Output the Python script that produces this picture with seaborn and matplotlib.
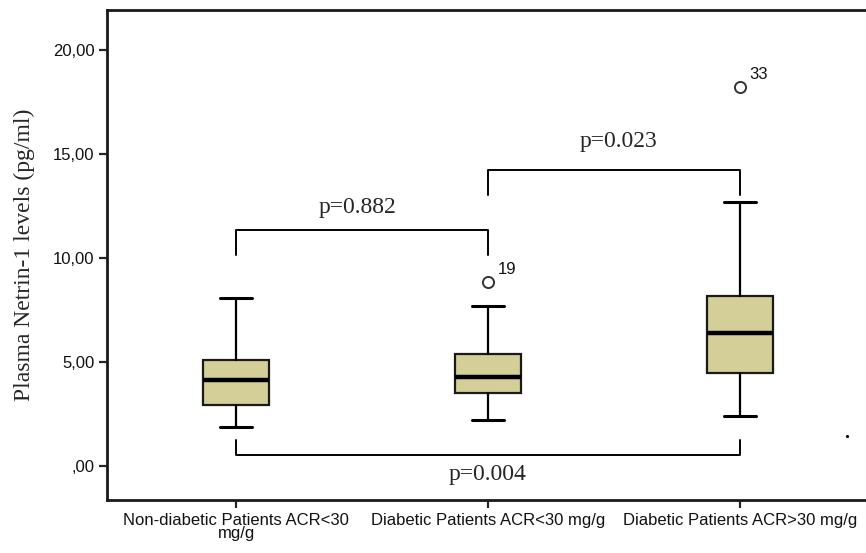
import matplotlib
matplotlib.use("Agg")
import matplotlib.pyplot as plt
import seaborn as sns

# Dados (Netrin-1 plasmático, pg/ml)
grupos = ["Non-diabetic Patients ACR<30\nmg/g",
          "Diabetic Patients ACR<30 mg/g",
          "Diabetic Patients ACR>30 mg/g"]
bigode_inf = [1.88, 2.21, 2.40]
q1 = [2.93, 3.51, 4.47]
mediana = [4.13, 4.28, 6.39]
q3 = [5.10, 5.38, 8.17]
bigode_sup = [8.08, 7.69, 12.69]
outliers = [[], [8.85], [18.22]]
outlier_ids = [[], ["19"], ["33"]]

# Comparações: grupo a, grupo b, altura do colchete, p, posição do texto
comparacoes = [(0, 1, 11.35, "p=0.882", 0.48, 12.45),
               (1, 2, 14.23, "p=0.023", 1.516, 15.58),
               (0, 2, 0.53, "p=0.004", 1.0, -0.38)]

sns.set_style("ticks")
plt.rcParams['font.family'] = ['Liberation Sans', 'DejaVu Sans']

fig = plt.figure(figsize=(8.66, 5.53), dpi=100)
ax = fig.add_axes([0.1236, 0.0958, 0.891, 0.886])

stats = []
for i in range(len(grupos)):
    stats.append(dict(whislo=bigode_inf[i], q1=q1[i], med=mediana[i],
                      q3=q3[i], whishi=bigode_sup[i], fliers=outliers[i]))

cor_caixa = '#D4CE98'
ax.bxp(stats, positions=range(len(grupos)), widths=0.265, patch_artist=True,
       showfliers=True,
       boxprops=dict(facecolor=cor_caixa, edgecolor='#1a1a1a', linewidth=1.6),
       medianprops=dict(color='black', linewidth=3.2),
       whiskerprops=dict(color='black', linewidth=1.6),
       capprops=dict(color='black', linewidth=2.2),
       capwidths=0.13,
       flierprops=dict(marker='o', markersize=8, markerfacecolor='white',
                       markeredgecolor='#333333', markeredgewidth=1.4))

# Rótulos dos outliers
for i, (vals, ids) in enumerate(zip(outliers, outlier_ids)):
    for v, rot in zip(vals, ids):
        ax.annotate(rot, (i, v), xytext=(7, 6), textcoords='offset points',
                    fontsize=12, color='#111111')

# Colchetes com p-valores
serif = ['Liberation Serif', 'DejaVu Serif']
for a, b, h, txt, tx, ty in comparacoes:
    if h > 5:
        perna = h - 1.2
    else:
        perna = h + 0.72
    ax.plot([a, a, b, b], [perna, h, h, perna], color='black', lw=1.4)
    ax.text(tx, ty, txt, ha='center', va='center', fontsize=17, family=serif)

# ponto solto no canto direito
ax.plot([2.425], [1.45], marker='.', markersize=2.5, color='black')

ax.set_xlim(-0.512, 2.55)
ax.set_ylim(-1.63, 21.92)
ax.set_yticks([0, 5, 10, 15, 20])
ax.set_yticklabels([",00", "5,00", "10,00", "15,00", "20,00"])
ax.set_xticks(range(len(grupos)))
ax.set_xticklabels(grupos, fontsize=12, linespacing=0.9)
ax.tick_params(axis='both', labelcolor='#111111')
ax.tick_params(axis='y', labelsize=12, length=6, width=1.6, direction='out', pad=3)
ax.tick_params(axis='x', length=6, width=1.6, direction='out', pad=3)
for s in ax.spines.values():
    s.set_linewidth(2.0)
    s.set_color('#1a1a1a')

ax.set_ylabel("Plasma Netrin-1 levels (pg/ml)", fontsize=17, family=serif)
ax.yaxis.set_label_coords(-0.094, 0.5)

fig.savefig("out.png", dpi=100)
